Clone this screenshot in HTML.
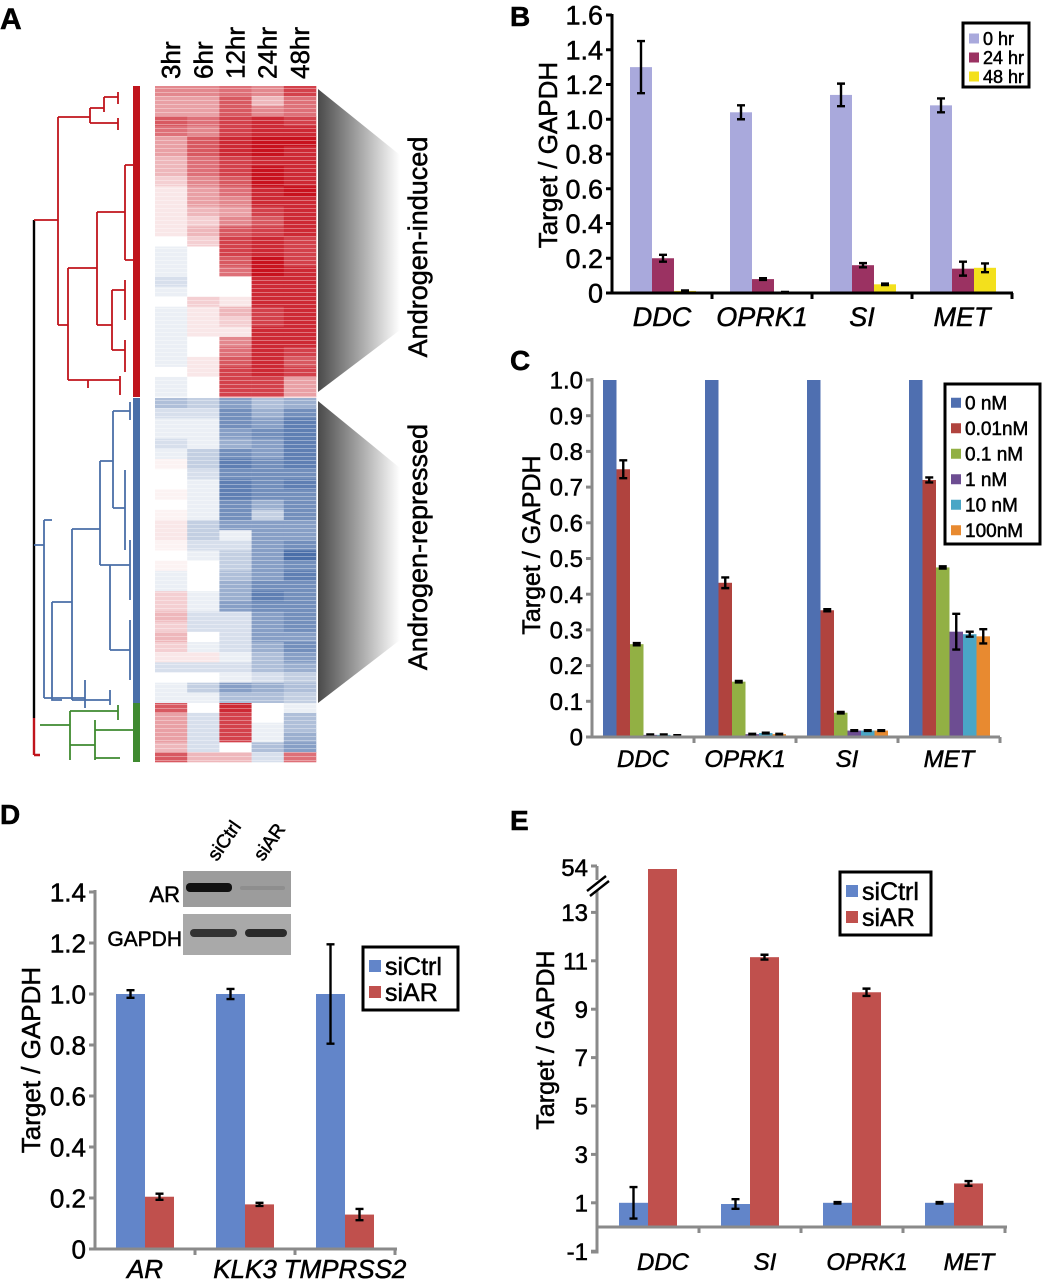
<!DOCTYPE html>
<html><head><meta charset="utf-8">
<style>
html,body{margin:0;padding:0;background:#fff;}
svg{display:block;font-family:"Liberation Sans",Arial,sans-serif;}
svg text{stroke:#000;stroke-width:0.5px;}
</style></head>
<body>
<svg id="fig" width="1045" height="1280" viewBox="0 0 1045 1280">
<defs>
<linearGradient id="wedge" x1="0" x2="1" y1="0" y2="0">
<stop offset="0" stop-color="#4a4a4a"/><stop offset="1" stop-color="#ffffff"/>
</linearGradient>
<pattern id="stripes" width="4" height="4" patternUnits="userSpaceOnUse">
<rect x="0" y="0" width="4" height="1" fill="#fff" fill-opacity="0.35"/>
</pattern>
</defs>
<g id="panelA"></g>
<g id="panelB"></g>
<g id="panelC"></g>
<g id="panelD"></g>
<g id="panelE"></g>
</svg>
<script>
// ---------- Panel A data ----------
const hmColumns = ["3hr","6hr","12hr","24hr","48hr"];
const hmInduced = [
[0.5,0.5,0.6,0.5,0.8],[0.4,0.4,0.7,0.3,0.6],[0.4,0.4,0.7,0.5,0.6],[0.7,0.6,0.8,0.9,0.8],
[0.6,0.5,0.8,0.9,0.9],[0.4,0.7,0.9,1,1],[0.4,0.7,0.9,1,0.9],[0.3,0.6,0.8,0.9,0.9],
[0.3,0.6,0.8,1,0.9],[0.2,0.5,0.7,1,0.9],[0.1,0.4,0.6,0.9,1],[0.1,0.4,0.5,0.9,0.9],
[0.1,0.3,0.4,0.8,0.9],[0.1,0.2,0.5,0.7,0.9],[0.1,0.3,0.7,0.8,0.9],[0,0.2,0.8,0.9,0.8],
[-0.1,0,0.8,0.9,0.8],[-0.1,0,0.7,1,0.8],[-0.1,0,0.6,1,0.9],[-0.2,0,0,0.9,0.9],
[-0.1,0,0,0.9,0.9],[0,0.2,0.1,0.9,0.9],[-0.1,0.1,0.3,0.8,0.9],[-0.1,0.1,0.2,0.8,0.9],
[-0.1,0.1,0.1,0.9,0.9],[-0.1,0,0.5,0.9,0.9],[-0.1,0,0.6,0.9,0.8],[-0.1,0.1,0.7,0.9,0.7],
[0,0.1,0.8,0.9,0.8],[-0.1,0,0.8,0.8,0.4],[-0.1,0,0.8,0.8,0.4]];
const hmRepressed = [
[-0.4,-0.3,-0.6,-0.4,-0.5],[-0.2,-0.2,-0.7,-0.5,-0.7],[-0.1,-0.1,-0.7,-0.6,-0.8],[-0.1,-0.1,-0.6,-0.7,-0.8],
[-0.2,-0.1,-0.5,-0.6,-0.8],[-0.1,-0.3,-0.7,-0.6,-0.8],[0.05,-0.3,-0.8,-0.7,-0.8],[0,-0.2,-0.7,-0.7,-0.7],
[0,-0.1,-0.8,-0.7,-0.8],[0.05,-0.1,-0.8,-0.7,-0.7],[0,-0.1,-0.7,-0.5,-0.7],[0.05,-0.1,-0.7,-0.3,-0.7],
[0.1,-0.3,-0.6,-0.6,-0.6],[0.1,-0.3,-0.1,-0.6,-0.6],[0.05,-0.2,-0.2,-0.6,-0.7],[0,-0.1,-0.3,-0.6,-0.9],
[0.05,0,-0.3,-0.6,-0.7],[-0.1,0,-0.4,-0.6,-0.8],[-0.1,0,-0.5,-0.7,-0.7],[0.2,-0.1,-0.5,-0.8,-0.7],
[0.2,-0.1,-0.6,-0.7,-0.7],[0.3,-0.2,-0.2,-0.6,-0.7],[0.2,-0.2,-0.2,-0.6,-0.7],[0.3,0,-0.2,-0.6,-0.6],
[0.2,-0.1,-0.2,-0.5,-0.7],[0.1,0.1,-0.1,-0.4,-0.6],[-0.2,-0.2,-0.2,-0.4,-0.5],[0,0,-0.1,-0.2,-0.3],
[-0.1,-0.3,-0.6,-0.5,-0.4],[-0.1,-0.1,-0.4,-0.4,-0.3]];
const hmMixed = [
[0.7,0,0.9,0,-0.1],[0.4,-0.2,0.8,0,-0.4],[0.4,-0.2,0.8,-0.1,-0.4],
[0.4,-0.2,0.8,-0.1,-0.5],[0.3,-0.2,0,-0.4,-0.6],[0.7,0.3,0.3,-0.2,0.6]];

// ---------- Panel B data ----------
const bCats = ["DDC","OPRK1","SI","MET"];
const bSeriesNames = ["0 hr","24 hr","48 hr"];
const b0hr = [1.30,1.04,1.14,1.08];
const b0hrErr = [0.15,0.04,0.065,0.04];
const b24hr = [0.20,0.08,0.16,0.14];
const b24hrErr = [0.02,0.005,0.012,0.04];
const b48hr = [0.012,0.004,0.05,0.145];
const b48hrErr = [0.003,0.002,0.004,0.025];
const bTicks = [0,0.2,0.4,0.6,0.8,1.0,1.2,1.4,1.6];
const bTickLabels = ["0","0.2","0.4","0.6","0.8","1.0","1.2","1.4","1.6"];

// ---------- Panel C data ----------
const cCats = ["DDC","OPRK1","SI","MET"];
const cSeriesNames = ["0 nM","0.01nM","0.1 nM","1 nM","10 nM","100nM"];
const c0nM = [1.0,1.0,1.0,1.0];
const c001nM = [0.75,0.432,0.355,0.72];
const c001nMErr = [0.025,0.015,0.003,0.007];
const c01nM = [0.26,0.155,0.068,0.475];
const c01nMErr = [0.003,0.002,0.002,0.003];
const c1nM = [0.006,0.008,0.018,0.295];
const c1nMErr = [0.001,0.001,0.001,0.05];
const c10nM = [0.006,0.011,0.018,0.288];
const c10nMErr = [0.001,0.001,0.001,0.007];
const c100nM = [0.004,0.008,0.018,0.282];
const c100nMErr = [0.001,0.001,0.001,0.02];
const cTicks = [0,0.1,0.2,0.3,0.4,0.5,0.6,0.7,0.8,0.9,1.0];
const cTickLabels = ["0","0.1","0.2","0.3","0.4","0.5","0.6","0.7","0.8","0.9","1.0"];

// ---------- Panel D data ----------
const dCats = ["AR","KLK3","TMPRSS2"];
const dSiCtrl = [1.0,1.0,1.0];
const dSiCtrlErr = [0.015,0.02,0.195];
const dSiAR = [0.205,0.175,0.135];
const dSiARErr = [0.012,0.006,0.022];
const dTicks = [0,0.2,0.4,0.6,0.8,1.0,1.2,1.4];
const dTickLabels = ["0","0.2","0.4","0.6","0.8","1.0","1.2","1.4"];

// ---------- Panel E data ----------
const eCats = ["DDC","SI","OPRK1","MET"];
const eSiCtrl = [1.0,0.95,1.0,1.0];
const eSiCtrlErr = [0.65,0.2,0.03,0.03];
const eSiAR = [54,11.15,9.7,1.8];
const eSiARErr = [0,0.1,0.15,0.1];
const eTicks = [-1,1,3,5,7,9,11,13];
const eTickLabels = ["-1","1","3","5","7","9","11","13"];

const NS = "http://www.w3.org/2000/svg";
function mk(parent, tag, attrs, text){
  const e = document.createElementNS(NS, tag);
  for (const k in attrs) e.setAttribute(k, attrs[k]);
  if (text !== undefined) e.textContent = text;
  parent.appendChild(e);
  return e;
}
function errBar(g, x, yTop, yBot, cap){
  const p = mk(g,'path',{d:`M${x-cap},${yTop}H${x+cap}M${x},${yTop}V${yBot}M${x-cap},${yBot}H${x+cap}`,stroke:'#000','stroke-width':2.4,fill:'none'});
  
  
}

// ================= Panel A =================
(function(){
  const g = document.getElementById('panelA');
  let t = mk(g,'text',{x:0,y:29,'font-size':30,'font-weight':'bold'},'A');
  
  
  const x0 = 155, colW = 32.2;
  hmColumns.forEach((c,i)=>{
    const cx = x0 + colW*i + colW/2 + 9;
    const lbl = mk(g,'text',{x:0,y:0,'font-size':26,transform:`translate(${cx},79) rotate(-90)`},c);
    
    
  });
  function color(v){
    const a = Math.min(1,Math.abs(v));
    let r,gg,b;
    if (v>=0){ r=255+(200-255)*a; gg=255+(18-255)*a; b=255+(30-255)*a; }
    else { r=255+(55-255)*a; gg=255+(95-255)*a; b=255+(160-255)*a; }
    return `rgb(${r|0},${gg|0},${b|0})`;
  }
  function block(rows, yStart, yEnd, name){
    const h = (yEnd - yStart)/rows.length;
    rows.forEach((row,ri)=>{
      row.forEach((v,ci)=>{
        const r = mk(g,'rect',{x:x0+colW*ci,y:yStart+ri*h,width:colW+0.3,height:h+0.3,fill:color(v)});
        
        
      });
    });
  }
  block(hmInduced, 86, 397, 'heatmap-cell-induced');
  block(hmRepressed, 398, 703, 'heatmap-cell-repressed');
  block(hmMixed, 703, 762, 'heatmap-cell-mixed');
  const st = mk(g,'rect',{x:155,y:86,width:161,height:676,fill:'url(#stripes)'});
   
  let w = mk(g,'polygon',{points:'318,89 400,155 400,330 318,392',fill:'url(#wedge)'});
   
  w = mk(g,'polygon',{points:'318,401 400,468 400,640 318,703',fill:'url(#wedge)'});
   
  t = mk(g,'text',{x:0,y:0,'font-size':27,'text-anchor':'middle',transform:'translate(427,247) rotate(-90)'},'Androgen-induced');
   
  t = mk(g,'text',{x:0,y:0,'font-size':27,'text-anchor':'middle',transform:'translate(427,547) rotate(-90)'},'Androgen-repressed');
   
  const dg = mk(g,'g',{fill:'none','stroke-width':1.8});
   
  mk(dg,'path',{d:'M34,220V718',stroke:'#000','stroke-width':2.4});
  mk(dg,'path',{d:'M34,718V755M34,755H40',stroke:'#c0141c','stroke-width':2.4});
  const red = 'M34,220H58M58,117V325M58,117H90M90,108V123M90,108H104M104,97V112M104,97H118M118,92V104M90,123H118M118,118V130M58,325H68M68,268V380M68,268H97M97,212V325M97,212H125M125,165V260M125,165H133M125,260H133M97,325H112M112,290V350M112,290H125M125,280V320M112,350H125M125,340V372M68,380H88M88,380V388M88,380H120M120,376V395';
  mk(dg,'path',{d:red,stroke:'#c0141c'});
  const blue = 'M34,545H44M44,520V698M44,520H52M52,602V608M52,602V700H62M52,602H72M72,529V700M72,529H100M100,461V565M100,461H113M113,411V508M113,411H130M130,402V420M113,508H125M125,470V550M100,565H110M110,565V650M110,565H130M130,540V600M110,650H130M130,620V680M72,700H110M110,690V705M44,698H85M85,680V708';
  mk(dg,'path',{d:blue,stroke:'#4a6fa8'});
  const green = 'M40,725H70M70,711V760M70,711H118M118,705V720M70,745H95M95,720V760M95,730H135M95,758H120';
  mk(dg,'path',{d:green,stroke:'#3f8a30'});
  let comb = mk(g,'rect',{x:133,y:86,width:7,height:311,fill:'#c0141c'});
   
  comb = mk(g,'rect',{x:133,y:398,width:7,height:305,fill:'#4a6fa8'});
   
  comb = mk(g,'rect',{x:133,y:703,width:7,height:59,fill:'#3f8a30'});
   
})();

function barChart(cfg){
  const g = cfg.g;
  const y = cfg.y;
  cfg.series.forEach((s,si)=>{
    cfg.cats.forEach((c,ci)=>{
      const bx = cfg.x0 + ci*cfg.groupW + cfg.pad + si*cfg.barW;
      const v = s.vals[ci];
      const top = y(v);
      const r = mk(g,'rect',{x:bx,y:top,width:cfg.barW,height:y(0)-top,fill:s.color});
      
      
      if (s.err && s.err[ci]>0){
        errBar(g, bx+cfg.barW/2, y(v+s.err[ci]), y(v-s.err[ci]), cfg.cap||4);
      }
    });
  });
  const ax = mk(g,'path',{d:`M${cfg.x0},${cfg.yTopAxis}V${cfg.yBase}H${cfg.xEnd}`,stroke:cfg.axisColor,'stroke-width':cfg.axisW,fill:'none'});
   
  cfg.ticks.forEach((tv,i)=>{
    const ty = y(tv);
    const tk = mk(g,'line',{x1:cfg.x0-6,x2:cfg.x0,y1:ty,y2:ty,stroke:cfg.axisColor,'stroke-width':cfg.axisW});
     
    const tl = mk(g,'text',{x:cfg.x0-9,y:ty+cfg.fs*0.36,'font-size':cfg.fs,'text-anchor':'end'},cfg.tickLabels[i]);
     
  });
  for (let i=1;i<=cfg.cats.length;i++){
    const tx = cfg.x0 + i*cfg.groupW;
    const tk = mk(g,'line',{x1:tx,x2:tx,y1:cfg.yBase,y2:cfg.yBase+6,stroke:cfg.axisColor,'stroke-width':cfg.axisW});
     
  }
  cfg.cats.forEach((c,ci)=>{
    const cx = cfg.x0 + ci*cfg.groupW + cfg.groupW/2 + (cfg.labelShift||0);
    const cl = mk(g,'text',{x:cx,y:cfg.labelY,'font-size':cfg.catFs||26,'font-style':'italic','text-anchor':'middle'},c);
     
  });
  const tt = mk(g,'text',{x:0,y:0,'font-size':cfg.titleFs||26,'text-anchor':'middle',transform:`translate(${cfg.titleX},${cfg.titleY}) rotate(-90)`},'Target / GAPDH');
   
}
function legend(g, x, y, w, h, items, fs, rowH, sw, name){
  const lg = mk(g,'g',{});
   
  mk(lg,'rect',{x:x,y:y,width:w,height:h,fill:'#fff',stroke:'#000','stroke-width':3});
  items.forEach((it,i)=>{
    const cy = y + 6 + rowH*i + rowH/2;
    const sq = mk(lg,'rect',{x:x+6,y:cy-sw/2,width:sw,height:sw,fill:it[1]});
     
    const t = mk(lg,'text',{x:x+10+sw,y:cy+fs*0.36,'font-size':fs},it[0]);
     
  });
}

// ================= Panel B =================
(function(){
  const g = document.getElementById('panelB');
  let t = mk(g,'text',{x:510,y:26,'font-size':28,'font-weight':'bold'},'B');
   
  const y0 = 293, px = (293-15)/1.6;
  const y = v => y0 - v*px;
  const cols = ['#a9a9dc','#9b3262','#f3e01c'];
  barChart({g, y, cats:bCats, x0:612, xEnd:1013, groupW:100, pad:18, barW:22, yBase:y0, yTopAxis:14,
    series:[{vals:b0hr,err:b0hrErr,color:cols[0]},{vals:b24hr,err:b24hrErr,color:cols[1]},{vals:b48hr,err:b48hrErr,color:cols[2]}],
    ticks:bTicks, tickLabels:bTickLabels, fs:27, axisColor:'#000', axisW:3, labelY:326, catFs:27, titleX:557, titleY:155, titleFs:26, cap:4});
  legend(g, 963, 23, 66, 64, bSeriesNames.map((n,i)=>[n,cols[i]]), 18, 19, 10, 'legend-b');
})();

// ================= Panel C =================
(function(){
  const g = document.getElementById('panelC');
  let t = mk(g,'text',{x:510,y:370,'font-size':28,'font-weight':'bold'},'C');
   
  const y0 = 737, px = 737-380;
  const y = v => y0 - v*px;
  const cols = ['#4f6fb0','#b0433e','#92b044','#6d4d92','#4aa6c6','#e88a30'];
  barChart({g, y, cats:cCats, x0:592, xEnd:1000, groupW:102, pad:11, barW:13.5, yBase:y0, yTopAxis:378,
    series:[{vals:c0nM,color:cols[0]},{vals:c001nM,err:c001nMErr,color:cols[1]},{vals:c01nM,err:c01nMErr,color:cols[2]},
            {vals:c1nM,err:c1nMErr,color:cols[3]},{vals:c10nM,err:c10nMErr,color:cols[4]},{vals:c100nM,err:c100nMErr,color:cols[5]}],
    ticks:cTicks, tickLabels:cTickLabels, fs:24, axisColor:'#8a8a8a', axisW:3, labelY:767, catFs:24, titleX:540, titleY:545, titleFs:25, cap:4});
  legend(g, 945, 384, 95, 160, cSeriesNames.map((n,i)=>[n,cols[i]]), 19, 25.5, 10, 'legend-c');
})();

// ================= Panel D =================
(function(){
  const g = document.getElementById('panelD');
  let t = mk(g,'text',{x:0,y:824,'font-size':28,'font-weight':'bold'},'D');
   
  const y0 = 1249, px = (1249-892)/1.4;
  const y = v => y0 - v*px;
  const cols = ['#6285c9','#c0504d'];
  barChart({g, y, cats:dCats, x0:95, xEnd:397, groupW:100, pad:21, barW:29, yBase:y0, yTopAxis:890,
    series:[{vals:dSiCtrl,err:dSiCtrlErr,color:cols[0]},{vals:dSiAR,err:dSiARErr,color:cols[1]}],
    ticks:dTicks, tickLabels:dTickLabels, fs:26, axisColor:'#8a8a8a', axisW:3, labelY:1278, catFs:26, titleX:40, titleY:1060, titleFs:26, cap:4});
  legend(g, 363, 947, 95, 63, [['siCtrl',cols[0]],['siAR',cols[1]]], 25, 26, 12, 'legend-d');
  const wb = mk(g,'g',{});
   
  mk(wb,'rect',{x:183,y:871,width:108,height:36,fill:'#9c9c9c'});
  mk(wb,'rect',{x:186,y:883,width:46,height:9,rx:4,fill:'#111'});
  mk(wb,'rect',{x:240,y:886,width:45,height:4,rx:2,fill:'#8e8e8e'});
  mk(wb,'rect',{x:183,y:914,width:108,height:41,fill:'#a9a9a9'});
  mk(wb,'rect',{x:190,y:929,width:47,height:8,rx:4,fill:'#333'});
  mk(wb,'rect',{x:245,y:929,width:42,height:8,rx:4,fill:'#2a2a2a'});
  t = mk(g,'text',{x:180,y:902,'font-size':22,'text-anchor':'end'},'AR');
   
  t = mk(g,'text',{x:182,y:946,'font-size':21,'text-anchor':'end'},'GAPDH');
   
  t = mk(g,'text',{x:0,y:0,'font-size':19,transform:'translate(217,862) rotate(-55)'},'siCtrl');
   
  t = mk(g,'text',{x:0,y:0,'font-size':19,transform:'translate(263,862) rotate(-55)'},'siAR');
   
})();

// ================= Panel E =================
(function(){
  const g = document.getElementById('panelE');
  let t = mk(g,'text',{x:510,y:830,'font-size':28,'font-weight':'bold'},'E');
   
  const y0 = 1227, px = 24.2;
  const y = v => v > 14 ? 869 : y0 - v*px;
  const cols = ['#6285c9','#c0504d'];
  barChart({g, y, cats:eCats, x0:597, xEnd:1007, groupW:102, pad:22, barW:29, yBase:y0, yTopAxis:866,
    series:[{vals:eSiCtrl,err:eSiCtrlErr,color:cols[0]},{vals:eSiAR,err:eSiARErr,color:cols[1]}],
    ticks:eTicks, tickLabels:eTickLabels, fs:24, axisColor:'#8a8a8a', axisW:3, labelY:1270, catFs:24, labelShift:15, titleX:554, titleY:1040, titleFs:25, cap:4});
  let a = mk(g,'path',{d:'M597,1227V1252H591M591,866H597',stroke:'#8a8a8a','stroke-width':3,fill:'none'});
   
  t = mk(g,'text',{x:588,y:876,'font-size':24,'text-anchor':'end'},'54');
   
  mk(g,'rect',{x:590,y:880,width:14,height:10,fill:'#fff'});
  const br = mk(g,'path',{d:'M587,891L606,876M590,896L609,881',stroke:'#000','stroke-width':2.4});
   
  legend(g, 840, 872, 91, 63, [['siCtrl',cols[0]],['siAR',cols[1]]], 25, 26, 12, 'legend-e');
})();
</script>
</body></html>
